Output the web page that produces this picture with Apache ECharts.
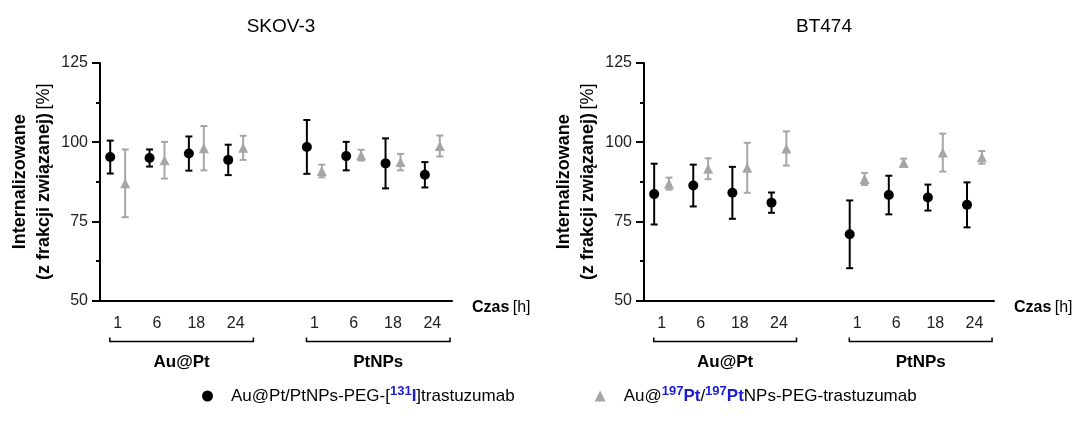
<!DOCTYPE html>
<html>
<head>
<meta charset="utf-8">
<title>Internalizacja</title>
<script src="https://cdn.jsdelivr.net/npm/echarts@6/dist/echarts.min.js"></script>
<style>
  html, body { margin: 0; padding: 0; background: #fff; }
  #chart { width: 1081px; height: 433px; }
</style>
</head>
<body>
<div id="chart"></div>
<script>
const panels = ['SKOV-3', 'BT474']
const groups = ['Au@Pt', 'PtNPs']
const hours = ['1', '6', '18', '24']
const seriesNames = ['Au@Pt/PtNPs-PEG-[131I]trastuzumab', 'Au@197Pt/197PtNPs-PEG-trastuzumab']

// order: Au@Pt 1,6,18,24 then PtNPs 1,6,18,24
const skovIodMean = [95.3, 95.0, 96.4, 94.4, 98.5, 95.6, 93.3, 89.7]
const skovIodErr = [5.2, 2.7, 5.4, 4.8, 8.5, 4.5, 7.9, 4.0]
const skovPtMean = [87.0, 94.3, 98.1, 98.2, 90.9, 95.9, 93.7, 98.8]
const skovPtErr = [10.7, 5.8, 7.0, 3.8, 2.0, 1.7, 2.6, 3.3]

const btIodMean = [83.6, 86.3, 84.0, 80.9, 70.9, 83.3, 82.5, 80.2]
const btIodErr = [9.6, 6.6, 8.2, 3.2, 10.7, 6.1, 4.1, 7.1]
const btPtMean = [86.9, 91.6, 91.9, 98.0, 88.4, 93.5, 96.7, 95.2]
const btPtErr = [1.9, 3.3, 7.9, 5.4, 1.9, 1.3, 6.0, 2.0]

const FONT = '"Liberation Sans", Arial, sans-serif'
const BLUE = '#1c1cd6'
const GREY = '#a6a6a6'

// x position of every point: one empty slot between the groups
const positions = []
groups.forEach((g, k) => hours.forEach((h, j) => positions.push(k * (hours.length + 1) + j)))

const panelData = [
  { iod: skovIodMean, iodErr: skovIodErr, pt: skovPtMean, ptErr: skovPtErr },
  { iod: btIodMean, iodErr: btIodErr, pt: btPtMean, ptErr: btPtErr }
]

const grids = [
  { left: 100, width: 352, top: 63, height: 237.5 },
  { left: 644, width: 350, top: 63, height: 237.5 }
]

function errorBars(color) {
  return function (params, api) {
    const x = api.value(0)
    const m = api.value(1)
    const e = api.value(2)
    const top = api.coord([x, m + e])
    const bot = api.coord([x, m - e])
    const w = 3.5
    const style = { stroke: color, lineWidth: 2 }
    return {
      type: 'group',
      children: [
        { type: 'line', shape: { x1: top[0], y1: top[1], x2: bot[0], y2: bot[1] }, style },
        { type: 'line', shape: { x1: top[0] - w, y1: top[1], x2: top[0] + w, y2: top[1] }, style },
        { type: 'line', shape: { x1: bot[0] - w, y1: bot[1], x2: bot[0] + w, y2: bot[1] }, style }
      ]
    }
  }
}

function bracket(params, api) {
  const a = api.coord([api.value(0), 50])
  const b = api.coord([api.value(1), 50])
  const y = a[1] + 41
  return {
    type: 'group',
    children: [
      {
        type: 'polyline',
        shape: { points: [[a[0], y - 4], [a[0], y], [b[0], y], [b[0], y - 4]] },
        style: { stroke: '#000', lineWidth: 1.5, fill: null }
      },
      {
        type: 'text',
        style: {
          text: groups[params.dataIndex],
          x: (a[0] + b[0]) / 2,
          y: a[1] + 62,
          align: 'center',
          verticalAlign: 'middle',
          fontFamily: FONT,
          fontSize: 17,
          fontWeight: 'bold',
          fill: '#000'
        }
      }
    ]
  }
}

const xAxis = grids.map((g, i) => ({
  type: 'value',
  gridIndex: i,
  min: -0.45,
  max: 8.5,
  splitLine: { show: false },
  axisTick: { show: false },
  axisLine: { onZero: false, lineStyle: { color: '#000', width: 2 } },
  axisLabel: {
    customValues: positions,
    formatter: v => hours[Math.round(v) % (hours.length + 1)],
    fontFamily: FONT,
    fontSize: 16,
    color: '#222',
    margin: 15
  },
  name: '{b|Czas} {n|[h]}',
  nameLocation: 'end',
  nameGap: 20,
  nameTextStyle: {
    padding: [14, 0, 0, 0],
    rich: {
      b: { fontFamily: FONT, fontSize: 16, fontWeight: 'bold', color: '#000' },
      n: { fontFamily: FONT, fontSize: 16, color: '#000' }
    }
  }
}))

const yAxis = grids.map((g, i) => ({
  type: 'value',
  gridIndex: i,
  min: 50,
  max: 125,
  interval: 25,
  splitLine: { show: false },
  axisLine: { show: true, onZero: false, lineStyle: { color: '#000', width: 2 } },
  axisTick: { show: true, length: 8, lineStyle: { color: '#000', width: 2 } },
  minorTick: { show: true, splitNumber: 2, length: 4, lineStyle: { color: '#000', width: 2 } },
  axisLabel: { fontFamily: FONT, fontSize: 16, color: '#222', margin: 12 },
  name: '{b|Internalizowane}\n{b|(z frakcji związanej)} {n|[%]}',
  nameLocation: 'middle',
  nameRotate: 90,
  nameGap: 44,
  nameTextStyle: {
    rich: {
      b: { fontFamily: FONT, fontSize: 18, fontWeight: 'bold', color: '#000', lineHeight: 24 },
      n: { fontFamily: FONT, fontSize: 18, color: '#000', lineHeight: 24 }
    }
  }
}))

const series = []
panelData.forEach((p, i) => {
  series.push({
    type: 'custom', name: 'err-iod-' + i, xAxisIndex: i, yAxisIndex: i, z: 2,
    renderItem: errorBars('#000'),
    encode: { x: 0, y: 1 },
    data: p.iod.map((m, k) => [positions[k] - 0.19, m, p.iodErr[k]])
  })
  series.push({
    type: 'custom', name: 'err-pt-' + i, xAxisIndex: i, yAxisIndex: i, z: 2,
    renderItem: errorBars(GREY),
    encode: { x: 0, y: 1 },
    data: p.pt.map((m, k) => [positions[k] + 0.19, m, p.ptErr[k]])
  })
  series.push({
    type: 'scatter', name: seriesNames[0], xAxisIndex: i, yAxisIndex: i, z: 5,
    symbol: 'circle', symbolSize: 10,
    itemStyle: { color: '#000', opacity: 1 },
    data: p.iod.map((m, k) => [positions[k] - 0.19, m])
  })
  series.push({
    type: 'scatter', name: seriesNames[1], xAxisIndex: i, yAxisIndex: i, z: 5,
    symbol: 'triangle', symbolSize: 10,
    itemStyle: { color: GREY, opacity: 1 },
    data: p.pt.map((m, k) => [positions[k] + 0.19, m])
  })
  series.push({
    type: 'custom', name: 'groups-' + i, xAxisIndex: i, yAxisIndex: i,
    clip: false, silent: true,
    renderItem: bracket,
    encode: { x: [0, 1] },
    data: groups.map((g, k) => [k * (hours.length + 1) - 0.2, k * (hours.length + 1) + 3.45])
  })
})

const chart = echarts.init(document.getElementById('chart'))
chart.setOption({
  animation: false,
  backgroundColor: '#fff',
  title: panels.map((t, i) => ({
    text: t,
    left: grids[i].left + grids[i].width / 2,
    textAlign: 'center',
    top: 12,
    textStyle: { fontFamily: FONT, fontSize: 19, fontWeight: 'normal', color: '#000' }
  })),
  grid: grids,
  xAxis,
  yAxis,
  legend: {
    left: 197,
    top: 380,
    itemGap: 80,
    itemWidth: 11,
    itemHeight: 11,
    data: [
      { name: seriesNames[0], icon: 'circle', itemStyle: { color: '#000' } },
      { name: seriesNames[1], icon: 'triangle', itemStyle: { color: GREY } }
    ],
    formatter: name => name === seriesNames[0]
      ? 'Au@Pt/PtNPs-PEG-[{sup|131}{hl|I}]trastuzumab'
      : 'Au@{sup|197}{hl|Pt}/{sup|197}{hl|Pt}NPs-PEG-trastuzumab',
    textStyle: {
      fontFamily: FONT,
      fontSize: 17,
      color: '#000',
      lineHeight: 22,
      padding: [0, 0, 0, 13],
      rich: {
        sup: { fontFamily: FONT, fontSize: 13, fontWeight: 'bold', color: BLUE, verticalAlign: 'top', lineHeight: 22 },
        hl: { fontFamily: FONT, fontSize: 17, fontWeight: 'bold', color: BLUE, lineHeight: 22 }
      }
    }
  },
  series
})
</script>
</body>
</html>
